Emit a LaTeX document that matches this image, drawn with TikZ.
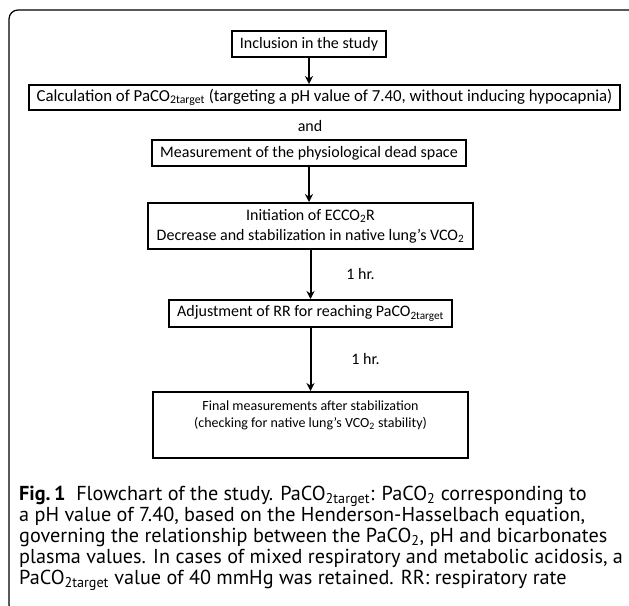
\documentclass[tikz,border=0pt]{standalone}
\usepackage{fontspec}
\setmainfont{Carlito}
\newfontfamily\capfont{PT Sans}
\usetikzlibrary{arrows.meta}

\tikzset{
  stepbox/.style={draw=black, line width=2pt, inner sep=0pt, align=center, font=\fontsize{16}{20}\selectfont},
  flow/.style={draw=black, line width=2pt, -{Stealth[length=8pt,width=8pt]}},
  hrlabel/.style={font=\fontsize{16}{20}\selectfont},
}

\begin{document}
\begin{tikzpicture}[x=1pt,y=-1pt]
\useasboundingbox (0,0) rectangle (629,605);
\begin{scope}
\clip (0,0) rectangle (629,605);
\draw[line width=1.2pt, rounded corners=9pt] (9,10) rectangle (640,614);
\end{scope}

\node[stepbox, minimum width=154pt, minimum height=26pt] (incl) at (309,44) {Inclusion in the study};
\node[stepbox, minimum width=591pt, minimum height=25pt, font=\fontsize{16.8}{20}\selectfont] (calc) at (324.5,97.5) {Calculation of PaCO\textsubscript{2target} (targeting a pH value of 7.40, without inducing hypocapnia)};
\node[font=\fontsize{16}{20}\selectfont] (and) at (310,126) {and};
\node[stepbox, minimum width=314pt, minimum height=26pt] (meas) at (309,153) {Measurement of the physiological dead space};
\node[stepbox, minimum width=325pt, minimum height=46pt] (init) at (310.5,226) {Initiation of ECCO\textsubscript{2}R\\Decrease and stabilization in native lung's VCO\textsubscript{2}};
\node[stepbox, minimum width=283pt, minimum height=27pt] (adj) at (310.5,313.5) {Adjustment of RR for reaching PaCO\textsubscript{2target}};
\node[stepbox, minimum width=315pt, minimum height=66pt, font=\fontsize{14}{17}\selectfont] (final) at (310.5,425) {Final measurements after stabilization\\(checking for native lung's VCO\textsubscript{2} stability)\\\strut};

\draw[flow] (incl.south) -- (incl.south |- calc.north);
\draw[flow] (meas.south) -- (meas.south |- init.north);
\draw[flow] (init.south) -- (init.south |- adj.north) node[hrlabel, midway, xshift=50pt] {1 hr.};
\draw[flow] (adj.south) -- (adj.south |- final.north) node[hrlabel, midway, xshift=55pt] {1 hr.};

\node[anchor=base west, inner sep=0pt, align=left, font=\capfont\fontsize{20.2}{21}\selectfont] (caption) at (19,584) {%
\textbf{Fig.\,1}\ \ Flowchart of the study. PaCO\textsubscript{2target}: PaCO\textsubscript{2} corresponding to\\
a pH value of 7.40, based on the Henderson-Hasselbach equation,\\
governing the relationship between the PaCO\textsubscript{2}, pH and bicarbonates\\
plasma values. In cases of mixed respiratory and metabolic acidosis, a\\
PaCO\textsubscript{2target} value of 40 mmHg was retained. RR: respiratory rate};
\end{tikzpicture}
\end{document}
